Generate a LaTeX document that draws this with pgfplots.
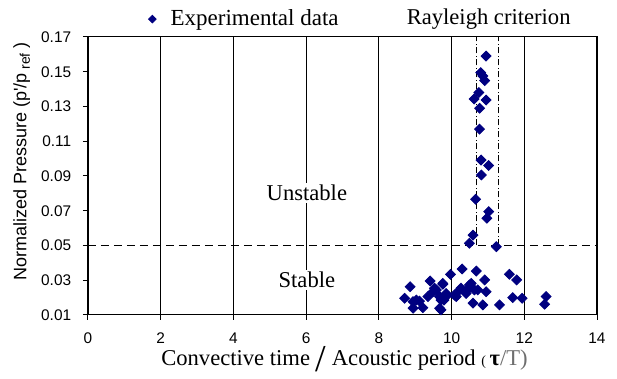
\documentclass[border=0pt]{standalone}
\usepackage{fontspec}
\setmainfont{Liberation Serif}
\newfontfamily\arial{Liberation Sans}
\usepackage{pgfplots}
\pgfplotsset{compat=1.18}
\definecolor{navy}{RGB}{0,0,128}
\definecolor{labgray}{RGB}{110,110,110}

% measured pressure amplitudes against tau/T
\pgfplotstableread{
x y
10.95 0.1590
10.80 0.1495
10.86 0.1476
10.91 0.1449
10.75 0.1380
10.62 0.1343
10.95 0.1337
10.77 0.1290
10.77 0.1170
10.81 0.0992
11.02 0.0960
10.82 0.0906
10.66 0.0766
11.02 0.0695
10.97 0.0657
10.59 0.0560
10.49 0.0513
11.23 0.0493
8.86 0.0263
9.41 0.0296
9.97 0.0334
10.29 0.0365
10.68 0.0353
10.91 0.0302
11.59 0.0334
11.79 0.0302
9.76 0.0277
9.53 0.0254
10.26 0.0254
10.49 0.0273
10.63 0.0244
10.72 0.0244
10.95 0.0234
8.71 0.0196
9.03 0.0186
9.35 0.0206
9.67 0.0206
10.08 0.0215
10.40 0.0224
10.59 0.0168
10.86 0.0158
11.32 0.0158
8.94 0.0139
9.21 0.0142
9.67 0.0139
9.71 0.0186
9.85 0.0224
11.68 0.0200
11.94 0.0196
12.60 0.0206
12.56 0.0162
8.94 0.0177
9.12 0.0180
9.58 0.0244
9.49 0.0234
10.22 0.0244
10.13 0.0206
9.85 0.0206
9.79 0.0186
9.71 0.0129
10.48 0.0254
10.54 0.0282
9.76 0.0282
}\expdata

\begin{document}
\begin{tikzpicture}
\begin{axis}[
  scale only axis,
  width=254.5pt, height=139pt,
  xmin=0, xmax=14, ymin=0.01, ymax=0.17,
  clip=false,
  xtick={0,2,4,6,8,10,12,14},
  ytick={0.01,0.03,0.05,0.07,0.09,0.11,0.13,0.15,0.17},
  yticklabels={0.01,0.03,0.05,0.07,0.09,0.11,0.13,0.15,0.17},
  tick align=outside, xtick pos=bottom, ytick pos=left,
  major tick length=2.5pt,
  xmajorgrids,
  major x grid style={black, line width=0.6pt},
  axis line style={black, line width=0.5pt},
  tick style={black, line width=0.5pt},
  /pgf/number format/assume math mode=true,
  ticklabel style={font=\arial\fontsize{7.7}{8}\selectfont},
  xticklabel style={yshift=-3pt},
  yticklabel style={xshift=-2.4pt},
  ylabel={Normalized Pressure (p'/p\raisebox{-0.35ex}{\fontsize{7}{7}\selectfont\ ref} )},
  ylabel style={font=\arial\fontsize{9}{10}\selectfont,
    at={(axis description cs:-0.13,0.552)}, anchor=center},
  xlabel={Convective time {\fontsize{19}{19}\selectfont\raisebox{-0.3ex}{/}} Acoustic period
    {\fontsize{7}{7}\selectfont(}\,{\bfseries τ}{\color{labgray}/T)}},
  xlabel style={font=\fontsize{11.3}{12}\selectfont, inner sep=0pt,
    at={(axis description cs:0.504,0)}, anchor=base, yshift=-25.5pt},
  legend style={at={(axis description cs:0.118,1)}, anchor=south west,
    yshift=2pt, draw=none, fill=none, inner sep=0pt,
    font=\fontsize{11.5}{12}\selectfont},
  legend image code/.code={%
    \draw[mark=square*, mark size=1.35pt, mark options={navy, rotate=45}]
      plot coordinates {(0.15cm,0cm)};
    \path (0.15cm,0cm) ++(7pt,0pt);},
]
% stability threshold
\addplot[black, line width=0.6pt, dash pattern=on 4pt off 2.5pt, forget plot]
  coordinates {(0,0.05) (14,0.05)};
% Rayleigh criterion band
\addplot[black, line width=0.4pt, dash pattern=on 3pt off 1.2pt on 0.6pt off 1.2pt, forget plot]
  coordinates {(10.68,0.05) (10.68,0.17)};
\addplot[black, line width=0.4pt, dash pattern=on 3pt off 1.2pt on 0.6pt off 1.2pt, forget plot]
  coordinates {(11.29,0.05) (11.29,0.17)};

\addplot[only marks, mark=square*, mark size=1.75pt,
  mark options={draw=navy, fill=navy, rotate=45}]
  table[x=x, y=y] {\expdata};
\addlegendentry{Experimental data}

\node[fill=white, inner sep=1pt, font=\fontsize{11.3}{12}\selectfont]
  at (axis cs:6.02,0.0802) {Unstable};
\node[fill=white, inner sep=1pt, font=\fontsize{11.3}{12}\selectfont]
  at (axis cs:6.02,0.0301) {Stable};
\node[anchor=base, font=\fontsize{11.3}{12}\selectfont]
  at (axis cs:11.02,0.17) [yshift=6pt] {Rayleigh criterion};

\coordinate (bl) at (rel axis cs:0,0);
\coordinate (tr) at (rel axis cs:1,1);
\end{axis}
\pgfresetboundingbox
\path[use as bounding box] ([xshift=-44pt,yshift=-32pt]bl) rectangle ([xshift=10pt,yshift=18.5pt]tr);
\end{tikzpicture}
\end{document}
